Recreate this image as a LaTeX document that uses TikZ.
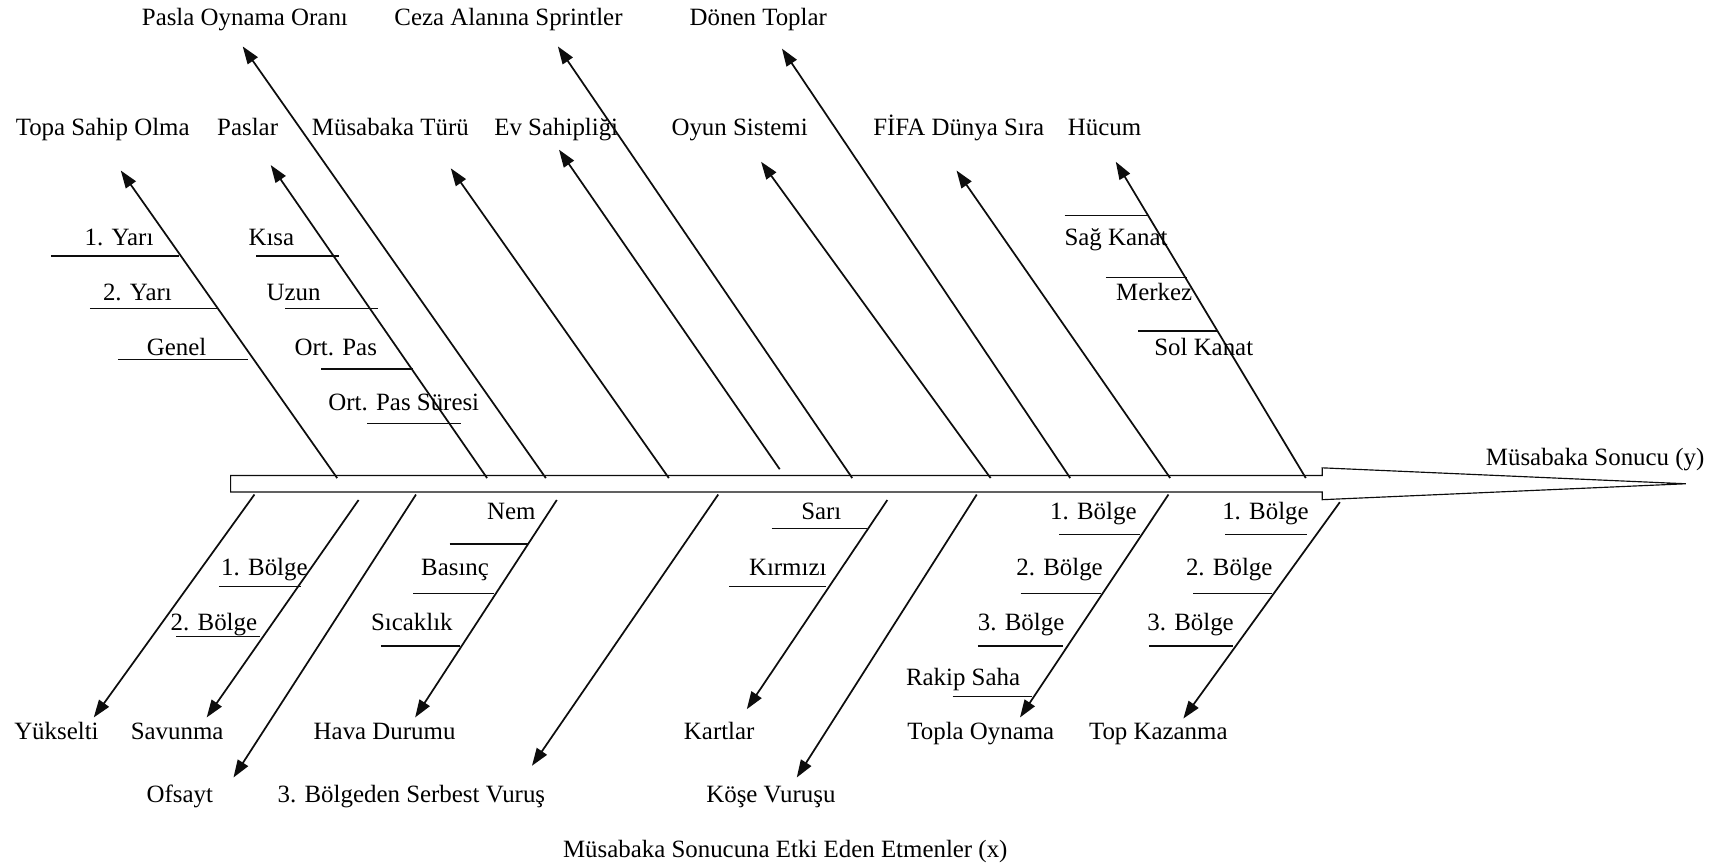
\documentclass[tikz,border=0pt]{standalone}
\usepackage{fontspec}
\setmainfont{Liberation Serif}
\usetikzlibrary{arrows.meta}
\definecolor{bone_black}{rgb} {0.05,0.05,0.05}

\begin{document}
\begin{tikzpicture}[x=0.02cm, y=-0.02cm,
    every node/.style={font=\fontsize{12.9}{15}\selectfont, inner sep=0pt,
      text height=8.8pt, text depth=2.6pt, yshift=-1.3pt},
    cause bone/.style={draw=bone_black, line width=0.9pt,
      -{Triangle[length=3.2mm,width=2.2mm]}},
    sub line/.style={draw=bone_black, line width=0.65pt},
    fish spine/.style={draw=bone_black, line width=0.6pt, fill=white},
  ]
  \useasboundingbox (0,0) rectangle (1568,787.6);

  \draw[fish spine] (210,433) -- (1204,433) -- (1204,426) -- (1535,440.5)
    -- (1204,455) -- (1204,448) -- (210,448) -- cycle;
  \node (result) at (1452.5,415.8) {Müsabaka Sonucu (y)};
  \node (caption) at (715,773) {Müsabaka Sonucuna Etki Eden Etmenler (x)};

  \node (Oran) at (223,15.2) {Pasla Oynama Oranı};
  \node (Ceza) at (463,15.2) {Ceza Alanına Sprintler};
  \node (Donen) at (690.5,15.2) {Dönen Toplar};
  \node (Topa) at (93.5,115.4) {Topa Sahip Olma};
  \node (Paslar) at (225.5,115.4) {Paslar};
  \node (Tur) at (355.5,115.4) {Müsabaka Türü};
  \node (Ev) at (506.5,115.4) {Ev Sahipliği};
  \node (Oyun) at (673.5,115.4) {Oyun Sistemi};
  \node (Fifa) at (873,115.4) {FİFA Dünya Sıra};
  \node (Hucum) at (1005.7,115.4) {Hücum};

  \coordinate (bTopa) at (307,433);    \coordinate (tTopa) at (110,153);
  \coordinate (bPaslar) at (443.5,433); \coordinate (tPaslar) at (246.5,148);
  \coordinate (bOran) at (497,433);    \coordinate (tOran) at (221,40);
  \coordinate (bTur) at (609,433);     \coordinate (tTur) at (410.5,151);
  \coordinate (bEv) at (710,425);      \coordinate (tEv) at (509,134);
  \coordinate (bCeza) at (776,433);    \coordinate (tCeza) at (508,40);
  \coordinate (bOyun) at (902,433);    \coordinate (tOyun) at (693,145);
  \coordinate (bDonen) at (974.5,433); \coordinate (tDonen) at (712,42);
  \coordinate (bFifa) at (1065.5,433); \coordinate (tFifa) at (871,153);
  \coordinate (bHucum) at (1189,433);  \coordinate (tHucum) at (1016,145);

  \draw[cause bone] (bTopa) -- (tTopa);
  \draw[cause bone] (bPaslar) -- (tPaslar);
  \draw[cause bone] (bOran) -- (tOran);
  \draw[cause bone] (bTur) -- (tTur);
  \draw[cause bone] (bEv) -- (tEv);
  \draw[cause bone] (bCeza) -- (tCeza);
  \draw[cause bone] (bOyun) -- (tOyun);
  \draw[cause bone] (bDonen) -- (tDonen);
  \draw[cause bone] (bFifa) -- (tFifa);
  \draw[cause bone] (bHucum) -- (tHucum);

  \node (Yari1) at (108.4,216.1) {1. Yarı};
  \draw[sub line] (46.4,233.1) -- (163,233.1);
  \node (Yari2) at (125.1,265.6) {2. Yarı};
  \draw[sub line] (81.9,280.8) -- (198,280.8);
  \node (Genel) at (160.8,315.7) {Genel};
  \draw[sub line] (107.3,327.2) -- (226,327.2);

  \node (Kisa) at (247.1,216.1) {Kısa};
  \draw[sub line] (233.5,233.1) -- (308.4,233.1);
  \node (Uzun) at (267.4,265.6) {Uzun};
  \draw[sub line] (259.6,280.8) -- (344.3,280.8);
  \node (OrtPas) at (305.8,315.7) {Ort. Pas};
  \draw[sub line] (292.7,336) -- (375.7,336);
  \node (OrtSure) at (367.7,365.8) {Ort. Pas Süresi};
  \draw[sub line] (334.5,385.5) -- (419.9,385.5);

  \draw[sub line] (969.3,196.4) -- (1045,196.4);
  \node (SagKanat) at (1016.2,216.1) {Sağ Kanat};
  \draw[sub line] (1007,252.5) -- (1080.4,252.5);
  \node (Merkez) at (1050.9,265.6) {Merkez};
  \draw[sub line] (1036.4,301.4) -- (1109,301.4);
  \node (SolKanat) at (1096.1,316.3) {Sol Kanat};

  \node (Yuk) at (51.4,665.6) {Yükselti};
  \node (Sav) at (161.3,665.6) {Savunma};
  \node (Hava) at (350.2,665.6) {Hava Durumu};
  \node (Kart) at (654.9,665.6) {Kartlar};
  \node (Topla) at (893.1,665.6) {Topla Oynama};
  \node (Kazan) at (1054.7,665.6) {Top Kazanma};
  \node (Ofs) at (163.8,723.3) {Ofsayt};
  \node (Serbest) at (374.6,723.3) {3. Bölgeden Serbest Vuruş};
  \node (Kose) at (702,723.3) {Köşe Vuruşu};

  \coordinate (bYuk) at (231.7,448);   \coordinate (tYuk) at (85.4,651);
  \coordinate (bSav) at (326.5,453);   \coordinate (tSav) at (188.2,651);
  \coordinate (bOfs) at (378.8,448);   \coordinate (tOfs) at (212.6,705.7);
  \coordinate (bHava) at (507,453);    \coordinate (tHava) at (378,651);
  \coordinate (bSerbest) at (654,448); \coordinate (tSerbest) at (484.4,695);
  \coordinate (bKart) at (808,453);    \coordinate (tKart) at (680,643.5);
  \coordinate (bKose) at (889.4,448);  \coordinate (tKose) at (725.5,705.7);
  \coordinate (bTopla) at (1064,448);  \coordinate (tTopla) at (928.8,651);
  \coordinate (bKazan) at (1220,455);  \coordinate (tKazan) at (1077.5,652);

  \draw[cause bone] (bYuk) -- (tYuk);
  \draw[cause bone] (bSav) -- (tSav);
  \draw[cause bone] (bOfs) -- (tOfs);
  \draw[cause bone] (bHava) -- (tHava);
  \draw[cause bone] (bSerbest) -- (tSerbest);
  \draw[cause bone] (bKart) -- (tKart);
  \draw[cause bone] (bKose) -- (tKose);
  \draw[cause bone] (bTopla) -- (tTopla);
  \draw[cause bone] (bKazan) -- (tKazan);

  \node (SavB1) at (240.8,516) {1. Bölge};
  \draw[sub line] (199.3,534.2) -- (274.3,534.2);
  \node (SavB2) at (194.8,566) {2. Bölge};
  \draw[sub line] (160.3,579.7) -- (237,579.7);

  \node (Nem) at (465.6,465.3) {Nem};
  \draw[sub line] (409.5,495.4) -- (481,495.4);
  \node (Basinc) at (414.4,516) {Basınç};
  \draw[sub line] (376.4,540.3) -- (450,540.3);
  \node (Sicak) at (375,566) {Sıcaklık};
  \draw[sub line] (346.8,588.2) -- (419,588.2);

  \node (Sari) at (747.9,465.3) {Sarı};
  \draw[sub line] (702.7,481.1) -- (789,481.1);
  \node (Kirmizi) at (717.3,516) {Kırmızı};
  \draw[sub line] (663.8,534.2) -- (752,534.2);

  \node (ToplaB1) at (995.6,465.3) {1. Bölge};
  \draw[sub line] (964.3,486.6) -- (1038.3,486.6);
  \node (ToplaB2) at (964.8,516) {2. Bölge};
  \draw[sub line] (929.4,540.3) -- (1002.5,540.3);
  \node (ToplaB3) at (929.8,566) {3. Bölge};
  \draw[sub line] (890.3,588.2) -- (968,588.2);
  \node (Rakip) at (876.9,616.2) {Rakip Saha};
  \draw[sub line] (867.5,634.4) -- (939.5,634.4);

  \node (KazanB1) at (1152.3,465.3) {1. Bölge};
  \draw[sub line] (1115.6,486.6) -- (1190.5,486.6);
  \node (KazanB2) at (1119.3,516) {2. Bölge};
  \draw[sub line] (1086.7,540.3) -- (1158,540.3);
  \node (KazanB3) at (1084.1,566) {3. Bölge};
  \draw[sub line] (1046.6,588.2) -- (1123,588.2);
  %\node (KazanB4) at (1050,616.2) {};
\end{tikzpicture}
\end{document}
